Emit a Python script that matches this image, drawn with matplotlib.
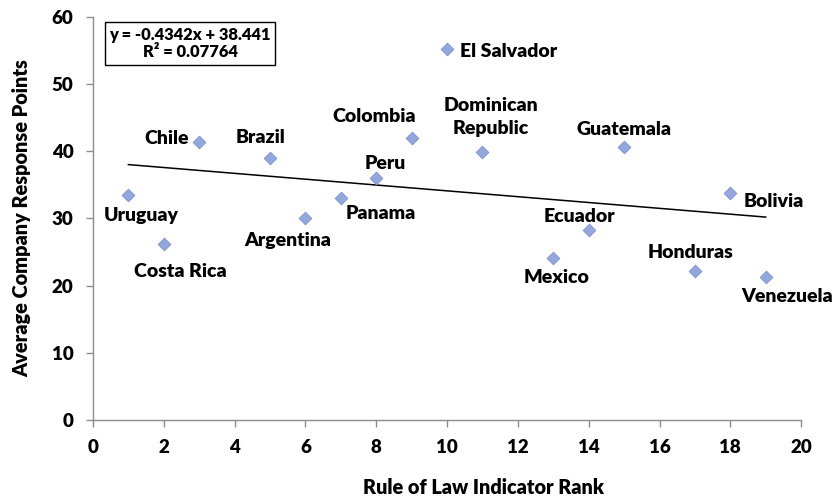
"""
Scatter of average company response points vs rule of law rank, with trend line.

Writes: out.png
"""

import matplotlib.pyplot as plt

FONT = "Lato"
MARKER = "#93a7dd"
MARKER_EDGE = "#7d92cf"
SPINE = "#8c8c8c"

countries = ["Uruguay", "Costa Rica", "Chile", "Brazil", "Argentina", "Panama",
             "Peru", "Colombia", "El Salvador", "Dominican\nRepublic", "Mexico",
             "Ecuador", "Guatemala", "Honduras", "Bolivia", "Venezuela"]
rank = [1, 2, 3, 5, 6, 7, 8, 9, 10, 11, 13, 14, 15, 17, 18, 19]
points = [33.5, 26.2, 41.4, 39.0, 30.1, 33.0, 36.0, 42.0, 55.2, 39.9, 24.1,
          28.3, 40.6, 22.2, 33.8, 21.3]

slope, intercept = -0.4342, 38.441
r_squared = 0.07764

# label offsets from the marker, in pixels (dx, dy) and alignment
label_pos = {
    "Uruguay":    (13, -21, "center"),
    "Costa Rica": (16, -28, "center"),
    "Chile":      (-10, 3, "right"),
    "Brazil":     (-10, 20, "center"),
    "Argentina":  (-18, -23, "center"),
    "Panama":     (5, -15, "left"),
    "Peru":       (9, 15, "center"),
    "Colombia":   (-38, 21, "center"),
    "El Salvador": (13, -2, "left"),
    "Dominican\nRepublic": (8, 35, "center"),
    "Mexico":     (3, -20, "center"),
    "Ecuador":    (-9, 13, "center"),
    "Guatemala":  (0, 18, "center"),
    "Honduras":   (-4, 18, "center"),
    "Bolivia":    (13, -9, "left"),
    "Venezuela":  (21, -20, "center"),
}


def main():
    plt.rcParams["font.family"] = [FONT, "DejaVu Sans"]
    plt.rcParams["font.weight"] = "heavy"

    fig = plt.figure(figsize=(8.38, 4.98), dpi=100)
    ax = fig.add_axes([0.111, 0.157, 0.845, 0.809])

    ax.scatter(rank, points, marker="D", s=42, color=MARKER,
               edgecolor=MARKER_EDGE, linewidth=0.6, zorder=3)

    x0, x1 = min(rank), max(rank)
    ax.plot([x0, x1], [slope * x0 + intercept, slope * x1 + intercept],
            color="black", lw=1.1, zorder=2)

    px = 72 / fig.dpi
    for name, x, y in zip(countries, rank, points):
        dx, dy, ha = label_pos[name]
        ax.annotate(name, (x, y), xytext=(dx * px, dy * px), textcoords="offset points",
                    ha=ha, va="center", fontsize=14, fontweight="heavy",
                    linespacing=1.45, zorder=4)

    ax.text(0.137, 0.934, f"y = {slope}x + {intercept}\nR² = {r_squared}",
            transform=ax.transAxes, ha="center", va="center", fontsize=11.9,
            fontweight="heavy", linespacing=1.15,
            bbox=dict(boxstyle="square,pad=0.25", facecolor="white",
                      edgecolor="black", linewidth=1.0))

    ax.set_xlim(0, 20)
    ax.set_ylim(0, 60)
    ax.set_xticks(range(0, 21, 2))
    ax.set_yticks(range(0, 61, 10))
    for side in ("top", "right"):
        ax.spines[side].set_visible(False)
    for side in ("left", "bottom"):
        ax.spines[side].set_color(SPINE)
        ax.spines[side].set_linewidth(1.0)
    ax.tick_params(colors=SPINE, labelcolor="black", labelsize=13.5, length=5, width=1)
    ax.tick_params(axis="x", pad=9)
    ax.tick_params(axis="y", pad=9)
    for lbl in ax.get_xticklabels() + ax.get_yticklabels():
        lbl.set_fontweight("heavy")

    ax.set_xlabel("Rule of Law Indicator Rank", fontsize=14.3, fontweight="heavy")
    ax.set_ylabel("Average Company Response Points", fontsize=14.3, fontweight="heavy")
    ax.xaxis.label.set_va("center")
    ax.yaxis.label.set_va("center")
    ax.xaxis.set_label_coords(0.552, -0.168)
    ax.yaxis.set_label_coords(-0.1, 0.50)

    fig.savefig("out.png", dpi=100)
    plt.close(fig)


if __name__ == "__main__":
    main()
